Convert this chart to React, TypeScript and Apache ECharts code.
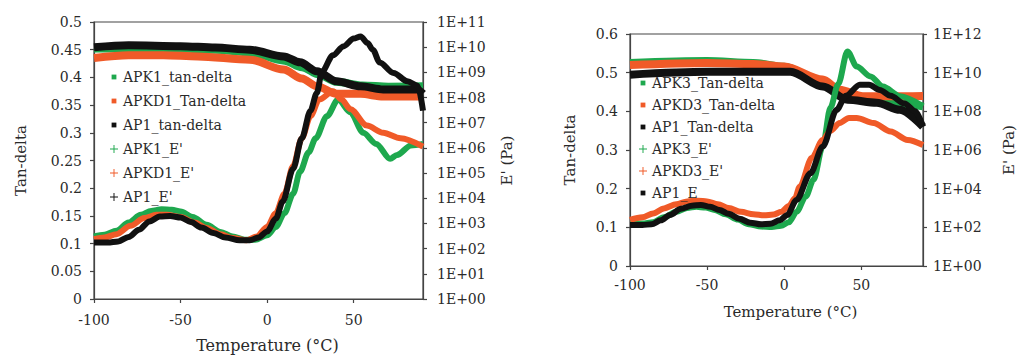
import React, { useEffect, useRef } from "react";
import * as echarts from "echarts";

const FONT = "'DejaVu Serif', 'Liberation Serif', serif";
const GREEN = "#1ea84e";
const ORANGE = "#f05a28";
const BLACK = "#111111";
const AXIS = "#444444";
const TEXT = "#2a2a2a";

// ---------- chart 1 (APK1 / APKD1 / AP1) ----------
const tempRange = [-100, 90];
const tanRange1 = [0, 0.5];
const eRange1 = [1, 1e11];

const apk1Tan = [[-100,0.113],[-94,0.116],[-87,0.123],[-80,0.138],[-73,0.152],[-67,0.159],[-61,0.162],[-55,0.161],[-50,0.158],[-43,0.148],[-35,0.134],[-27,0.121],[-20,0.113],[-13,0.107],[-7,0.107],[0,0.115],[5,0.13],[10,0.155],[15,0.19],[19,0.23],[24,0.265],[28,0.29],[34.5,0.33],[41,0.36],[48,0.337],[55.5,0.3],[63,0.28],[71,0.253],[75,0.26],[83,0.277],[90,0.28]];
const apkd1Tan = [[-100,0.108],[-94,0.111],[-87,0.117],[-79,0.132],[-71,0.146],[-64,0.152],[-58,0.152],[-50,0.148],[-42,0.138],[-35,0.128],[-27,0.117],[-20,0.11],[-12,0.106],[-6,0.113],[0,0.13],[5,0.155],[10,0.19],[15,0.24],[20,0.29],[25,0.33],[30,0.36],[38,0.375],[43,0.36],[48,0.343],[57.6,0.313],[67,0.3],[77,0.29],[90,0.275]];
const ap1Tan = [[-100,0.102],[-92,0.102],[-86,0.104],[-80,0.112],[-74,0.125],[-68,0.14],[-62,0.149],[-56,0.15],[-50,0.147],[-44,0.139],[-38,0.129],[-31,0.119],[-24,0.111],[-16,0.106],[-10,0.106],[-5,0.111],[0,0.122],[5,0.145],[9,0.176],[15,0.235],[20,0.29],[25,0.34],[28.7,0.372],[31.6,0.41],[38,0.44],[44,0.456],[50,0.47],[54,0.474],[58,0.462],[61,0.45],[65,0.427],[73,0.408],[81,0.393],[87,0.385],[90,0.34]];
const apk1E = [[-100,8.8e9],[-75,9.0e9],[-50,8.8e9],[-30,7.9e9],[-10,6.2e9],[10,2.9e9],[20,1.6e9],[30,8.1e8],[40,4.2e8],[55,3.0e8],[70,2.7e8],[90,2.8e8]];
const apkd1E = [[-100,3.7e9],[-80,4.8e9],[-60,4.8e9],[-40,4.3e9],[-10,3.2e9],[9.5,1.3e9],[20,5.7e8],[28.7,2.8e8],[40,1.4e8],[54,1.4e8],[67,1.1e8],[90,1.1e8]];
const ap1E = [[-100,1.0e10],[-80,1.2e10],[-50,1.1e10],[-30,9.7e9],[-10,7.9e9],[9.5,4.3e9],[19,2.5e9],[28.7,1.1e9],[40,4.4e8],[54,2.8e8],[67,2.1e8],[86.5,2.1e8],[90,1.4e8]];

// ---------- chart 2 (APK3 / APKD3 / AP1) ----------
const tanRange2 = [0, 0.6];
const eRange2 = [1, 1e12];

const apk3Tan = [[-100,0.11],[-92,0.11],[-85,0.113],[-78,0.126],[-70,0.14],[-63,0.15],[-57,0.153],[-51,0.151],[-45,0.145],[-38,0.134],[-30,0.12],[-23,0.108],[-15,0.102],[-8,0.101],[-2,0.104],[3,0.113],[8,0.14],[14,0.18],[19,0.223],[25,0.31],[30,0.41],[35,0.47],[41,0.555],[47,0.516],[56,0.49],[64,0.464],[75,0.439],[90,0.413]];
const apkd3Tan = [[-100,0.119],[-92,0.126],[-85,0.136],[-78,0.149],[-70,0.16],[-63,0.167],[-56,0.169],[-50,0.167],[-43,0.16],[-36,0.15],[-28,0.14],[-20,0.134],[-13,0.131],[-7,0.133],[-2,0.14],[3,0.155],[7,0.175],[10,0.205],[18,0.28],[25,0.326],[30,0.35],[36,0.37],[42,0.383],[47,0.383],[58,0.37],[69,0.348],[80,0.326],[90,0.313]];
const ap1Tan2 = [[-100,0.106],[-92,0.106],[-86,0.108],[-80,0.118],[-74,0.132],[-67,0.148],[-60,0.156],[-54,0.158],[-48,0.153],[-42,0.145],[-36,0.135],[-29,0.122],[-22,0.112],[-15,0.108],[-9,0.109],[-3,0.118],[2,0.132],[8,0.171],[17,0.24],[25,0.309],[34,0.404],[40,0.44],[49,0.469],[55,0.469],[62,0.455],[69,0.44],[78,0.42],[85,0.4],[90,0.36]];
const apk3E = [[-100,3.2e10],[-50,4.0e10],[-20,3.2e10],[0,2.0e10],[25,3.2e9],[40,6.3e8],[60,3.2e8],[75,2.5e8],[90,1.8e8]];
const apkd3E = [[-100,2.5e10],[-50,3.2e10],[-20,2.8e10],[0,2.1e10],[25,4.4e9],[36,1.3e9],[51,6.0e8],[69,6.0e8],[90,6.3e8]];
const ap1E2 = [[-100,7.9e9],[-50,1.1e10],[-20,1.1e10],[4,1.1e10],[25,1.9e9],[41,4.0e8],[60,2.8e8],[75,1.2e8],[90,1.6e7]];

const legend1Names = ["APK1_tan-delta", "APKD1_Tan-delta", "AP1_tan-delta", "APK1_E'", "APKD1_E'", "AP1_E'"];
const legend2Names = ["APK3_Tan-delta", "APKD3_Tan-delta", "AP1_Tan-delta", "APK3_E'", "APKD3_E'", "AP1_E"];

const SQ = "path://M0,0M10,10M2,2H8V8H2Z";
const PLUS = "path://M4.4,0H5.6V4.4H10V5.6H5.6V10H4.4V5.6H0V4.4H4.4Z";

const expLabel = (v: number) => {
  const e = Math.round(Math.log10(v));
  return "1E+" + String(e).padStart(2, "0");
};

export default function App() {
  const ref = useRef<HTMLDivElement>(null);
  useEffect(() => {
    document.body.style.margin = "0";
    if (!ref.current) return;
    const chart = echarts.init(ref.current, null, { renderer: "svg" });

    const axisLine = { show: true, onZero: false, lineStyle: { color: AXIS, width: 1.2 } };
    const axisTick = { show: true, length: 4, lineStyle: { color: AXIS, width: 1.2 } };
    const label = (margin: number) => ({ fontFamily: FONT, fontSize: 14, color: TEXT, margin });
    const nameStyle = (size: number, padding?: number[]) => ({ fontFamily: FONT, fontSize: size, color: TEXT, padding });

    const line = (name: string, data: number[][], color: string, xi: number, yi: number, w: number) => ({
      name,
      type: "line",
      xAxisIndex: xi,
      yAxisIndex: yi,
      data,
      showSymbol: false,
      smooth: 0.3,
      smoothMonotone: "x",
      color,
      lineStyle: { color, width: w },
      itemStyle: { color },
      z: 2,
    });

    const xAxis = (gi: number, gapName: number, pad: number, margin: number, size: number) => ({
      type: "value",
      gridIndex: gi,
      min: tempRange[0],
      max: tempRange[1],
      interval: 50,
      name: "Temperature (°C)",
      nameLocation: "middle",
      nameGap: gapName,
      nameTextStyle: nameStyle(size, [0, 0, 0, pad]),
      axisLine,
      axisTick,
      axisLabel: { ...label(margin), showMaxLabel: false },
      splitLine: { show: false },
    });

    const option: any = {
      animation: false,
      backgroundColor: "#ffffff",
      grid: [
        { left: 94, top: 22, width: 329, height: 280, show: true, borderColor: AXIS, borderWidth: 1.2, backgroundColor: "transparent" },
        { left: 630, top: 34, width: 293, height: 232, show: true, borderColor: AXIS, borderWidth: 1.2, backgroundColor: "transparent" },
      ],
      xAxis: [xAxis(0, 38, 18, 14, 16), xAxis(1, 38, 28, 12, 15)],
      yAxis: [
        {
          type: "value", gridIndex: 0, min: tanRange1[0], max: tanRange1[1], interval: 0.05,
          name: "Tan-delta", nameLocation: "middle", nameRotate: 90, nameGap: 66,
          nameTextStyle: nameStyle(15), axisLine, axisTick, axisLabel: label(12), splitLine: { show: false },
        },
        {
          type: "log", logBase: 10, gridIndex: 0, position: "right", min: eRange1[0], max: eRange1[1], interval: 1,
          name: "E' (Pa)", nameLocation: "middle", nameRotate: 90, nameGap: 76,
          nameTextStyle: nameStyle(15), axisLine, axisTick, axisLabel: { ...label(14), formatter: expLabel },
          splitLine: { show: false }, minorTick: { show: false },
        },
        {
          type: "value", gridIndex: 1, min: tanRange2[0], max: tanRange2[1], interval: 0.1,
          name: "Tan-delta", nameLocation: "middle", nameRotate: 90, nameGap: 53,
          nameTextStyle: nameStyle(15), axisLine, axisTick, axisLabel: label(12), splitLine: { show: false },
        },
        {
          type: "log", logBase: 10, gridIndex: 1, position: "right", min: eRange2[0], max: eRange2[1], interval: 2,
          name: "E' (Pa)", nameLocation: "middle", nameRotate: 90, nameGap: 78,
          nameTextStyle: nameStyle(15), axisLine, axisTick, axisLabel: { ...label(10), formatter: expLabel },
          splitLine: { show: false }, minorTick: { show: false },
        },
      ],
      legend: [
        {
          orient: "vertical", left: 110, top: 70, padding: 0, itemGap: 10, itemWidth: 8, itemHeight: 8,
          textStyle: { fontFamily: FONT, fontSize: 14, color: TEXT },
          data: legend1Names.map((n, i) => ({ name: n, icon: i < 3 ? SQ : PLUS })),
        },
        {
          orient: "vertical", left: 639, top: 76, padding: 0, itemGap: 8, itemWidth: 8, itemHeight: 8,
          textStyle: { fontFamily: FONT, fontSize: 14, color: TEXT },
          data: legend2Names.map((n, i) => ({ name: n, icon: i < 3 || i === 5 ? SQ : PLUS })),
        },
      ],
      series: [
        line(legend1Names[3], apk1E, GREEN, 0, 1, 8),
        line(legend1Names[4], apkd1E, ORANGE, 0, 1, 8),
        line(legend1Names[5], ap1E, BLACK, 0, 1, 8),
        line(legend1Names[0], apk1Tan, GREEN, 0, 0, 6),
        line(legend1Names[1], apkd1Tan, ORANGE, 0, 0, 6),
        line(legend1Names[2], ap1Tan, BLACK, 0, 0, 6),
        line(legend2Names[3], apk3E, GREEN, 1, 3, 8),
        line(legend2Names[4], apkd3E, ORANGE, 1, 3, 8),
        line(legend2Names[5], ap1E2, BLACK, 1, 3, 8),
        line(legend2Names[0], apk3Tan, GREEN, 1, 2, 6),
        line(legend2Names[1], apkd3Tan, ORANGE, 1, 2, 6),
        line(legend2Names[2], ap1Tan2, BLACK, 1, 2, 6),
      ],
    };
    chart.setOption(option);
    return () => chart.dispose();
  }, []);
  return <div ref={ref} style={{ width: 1021, height: 358 }} />;
}
